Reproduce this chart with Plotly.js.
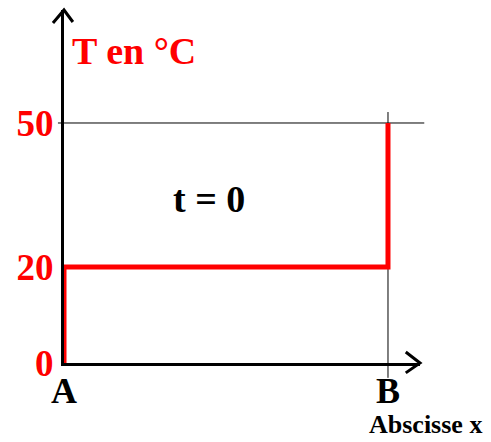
<!DOCTYPE html>
<html>
<head>
<meta charset="utf-8">
<script src="https://cdn.plot.ly/plotly-3.0.1.min.js"></script>
<style>html,body{margin:0;padding:0;background:#fff;}#chart{width:491px;height:442px;}</style>
</head>
<body>
<div id="chart"></div>
<script>
// Data: temperature profile T(x) at t = 0 between points A and B
const positions = ["A", "A", "B", "B"];
const temperatures = [0, 20, 20, 50];
const yTickValues = [0, 20, 50];
const yTickLabels = ["0", "20", "50"];
const xCategories = ["A", "B"];
const guideTemperature = 50;
const guidePosition = "B";

const serif = "Liberation Serif, Times New Roman, serif";

const trace = {
  x: positions,
  y: temperatures,
  type: "scatter",
  mode: "lines",
  line: { color: "#ff0000", width: 5 },
  cliponaxis: false,
  hoverinfo: "skip"
};

const layout = {
  width: 491,
  height: 442,
  margin: { l: 64, r: 71, t: 10, b: 79 },
  paper_bgcolor: "#ffffff",
  plot_bgcolor: "#ffffff",
  showlegend: false,
  xaxis: {
    type: "category",
    categoryorder: "array",
    categoryarray: xCategories,
    range: [0, 1.0988],
    showgrid: false,
    zeroline: false,
    showline: true,
    linecolor: "#000",
    linewidth: 3,
    layer: "below traces",
    ticks: "",
    ticklabelstandoff: -6,
    tickfont: { family: serif, size: 36, color: "#000", weight: "bold" }
  },
  yaxis: {
    range: [0, 73.54],
    tickvals: yTickValues,
    ticktext: yTickLabels,
    showgrid: false,
    zeroline: false,
    showline: true,
    linecolor: "#000",
    linewidth: 3,
    layer: "below traces",
    ticks: "",
    ticklabelstandoff: 0,
    tickfont: { family: serif, size: 37, color: "#ff0000", weight: "bold" }
  },
  shapes: [
    // guide line at T = 50
    { type: "line", layer: "below", xref: "paper", yref: "y",
      x0: -0.017, x1: 1.012, y0: guideTemperature, y1: guideTemperature,
      line: { color: "#000", width: 1 } },
    // guide line at B
    { type: "line", layer: "below", xref: "x", yref: "paper",
      x0: guidePosition, x1: guidePosition, y0: -0.042, y1: 0.711,
      line: { color: "#000", width: 1 } },
    // arrow head on T axis
    { type: "path", xref: "paper", yref: "paper",
      path: "M -0.031,0.963 L 0,1 L 0.025,0.966",
      line: { color: "#000", width: 3 } },
    // arrow head on x axis
    { type: "path", xref: "paper", yref: "paper",
      path: "M 0.96,0.031 L 1,0 L 0.96,-0.028",
      line: { color: "#000", width: 3 } }
  ],
  annotations: [
    { text: "T en °C", xref: "paper", yref: "paper", x: 0.017, y: 0.884,
      xanchor: "left", yanchor: "middle", showarrow: false,
      font: { family: serif, size: 38, color: "#ff0000", weight: "bold" } },
    { text: "t = 0", xref: "paper", yref: "paper", x: 0.407, y: 0.465,
      xanchor: "center", yanchor: "middle", showarrow: false,
      font: { family: serif, size: 38, color: "#000", weight: "bold" } },
    { text: "Abscisse x", xref: "paper", yref: "paper", x: 1.18, y: -0.174,
      xanchor: "right", yanchor: "middle", showarrow: false,
      font: { family: serif, size: 26, color: "#000", weight: "bold" } }
  ]
};

Plotly.newPlot("chart", [trace], layout, { staticPlot: true, displayModeBar: false });
</script>
</body>
</html>
